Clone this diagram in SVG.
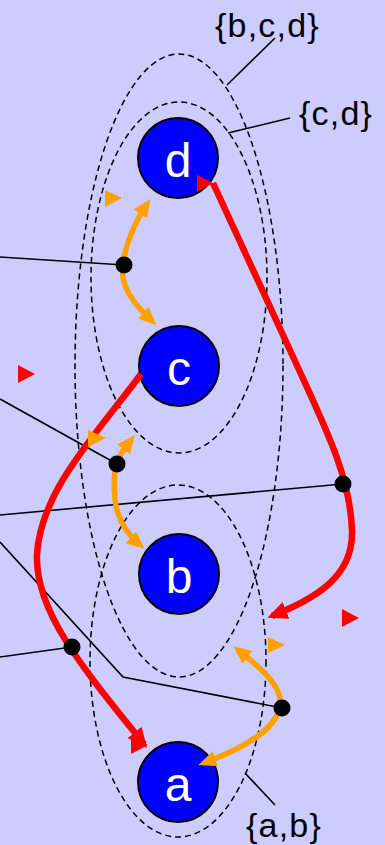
<svg xmlns="http://www.w3.org/2000/svg" width="385" height="845" viewBox="0 0 385 845">
<style>
.bg{fill:#ccccff}
.set{fill:none;stroke:#000;stroke-width:1.5;stroke-dasharray:6,4}
.node circle{fill:#0000ff;stroke:#000;stroke-width:2}
.node text{fill:#fff;font-family:"Liberation Sans",Arial,sans-serif;font-size:48px;text-anchor:middle}
.lbl{fill:#000;font-family:"Liberation Sans",Arial,sans-serif;font-size:34px;letter-spacing:1.2px}
.lead{stroke:#000;stroke-width:1.6;fill:none}
.or{fill:none;stroke:#ffa000;stroke-width:5.5;marker-start:url(#oa);marker-end:url(#oa)}
.rd{fill:none;stroke:#ff0000;stroke-width:6.5;marker-end:url(#ra)}
.dot{fill:#000}
.otri{fill:#ffa000}
.rtri{fill:#ff0000}
</style>
<defs>
<marker id="oa" viewBox="0 0 18 16" refX="12" refY="8" markerWidth="18" markerHeight="16" orient="auto-start-reverse" markerUnits="userSpaceOnUse"><path d="M0,0 L18,8 L0,16 z" fill="#ffa000"/></marker>
<marker id="ra" viewBox="0 0 20 18" refX="15" refY="9" markerWidth="20" markerHeight="18" orient="auto" markerUnits="userSpaceOnUse"><path d="M0,0 L20,9 L0,18 z" fill="#ff0000"/></marker>
</defs>
<rect class="bg" x="0" y="0" width="385" height="845"/>
<g id="sets">
<ellipse id="set-bcd" class="set" cx="179" cy="365.5" rx="104" ry="311.5"/>
<ellipse id="set-cd" class="set" cx="179" cy="277.5" rx="88" ry="175.5"/>
<ellipse id="set-ab" class="set" cx="178" cy="661" rx="88" ry="176"/>
</g>
<g id="labels">
<text class="lbl" x="215" y="37">{b,c,d}</text>
<line class="lead" x1="275" y1="38" x2="227" y2="85"/>
<text class="lbl" x="299" y="125">{c,d}</text>
<line class="lead" x1="290" y1="118" x2="228" y2="133"/>
<text class="lbl" x="246" y="837">{a,b}</text>
<line class="lead" x1="275" y1="805" x2="245" y2="773"/>
</g>
<g id="node-d" class="node"><circle cx="178" cy="158" r="40"/><text x="178" y="177">d</text></g>
<g id="node-c" class="node"><circle cx="179" cy="366" r="40"/><text x="179" y="385">c</text></g>
<g id="node-b" class="node"><circle cx="179" cy="574" r="40"/><text x="179" y="593">b</text></g>
<g id="node-a" class="node"><circle cx="178" cy="782" r="40"/><text x="178" y="801">a</text></g>
<g id="connectors">
<polyline class="lead" points="0,257 124,265"/>
<polyline class="lead" points="0,399 117,464"/>
<polyline class="lead" points="0,515 343,484"/>
<polyline class="lead" points="0,657 72,647"/>
<polyline class="lead" points="0,542 123,677 282,708"/>
<path class="or" d="M152,321 C132,302 120,286 123,265 C125,245 135,222 147,204"/>
<path class="or" d="M131,440 C124,449 117,458 115,470 C112,500 116,525 140,545"/>
<path class="or" d="M238,650 C256,664 284,686 280,706 C277,726 250,746 204,763"/>
<path class="rd" d="M213,183 L300,372 C330,437 350,480 352,530 C354,578 312,600 272,616"/>
<path class="rd" d="M141,374 C100,430 40,490 37,555 C35,610 80,665 144,744"/>
<polygon class="rtri" points="197,175 213,183 197,192"/>
<polygon class="rtri" points="131,737 148,745 131,754"/>
<polygon class="rtri" points="18,365 35,374 18,383"/>
<polygon class="rtri" points="342,609 359,618 342,627"/>
<polygon class="otri" points="105,190 122,198 105,207"/>
<polygon class="otri" points="88,430 106,438 88,447"/>
<polygon class="otri" points="268,637 285,645 268,653"/>
<circle class="dot" cx="124" cy="265" r="8.5"/>
<circle class="dot" cx="117" cy="464" r="8.5"/>
<circle class="dot" cx="343" cy="484" r="8.5"/>
<circle class="dot" cx="72" cy="647" r="8.5"/>
<circle class="dot" cx="282" cy="708" r="8.5"/>
</g>
</svg>
